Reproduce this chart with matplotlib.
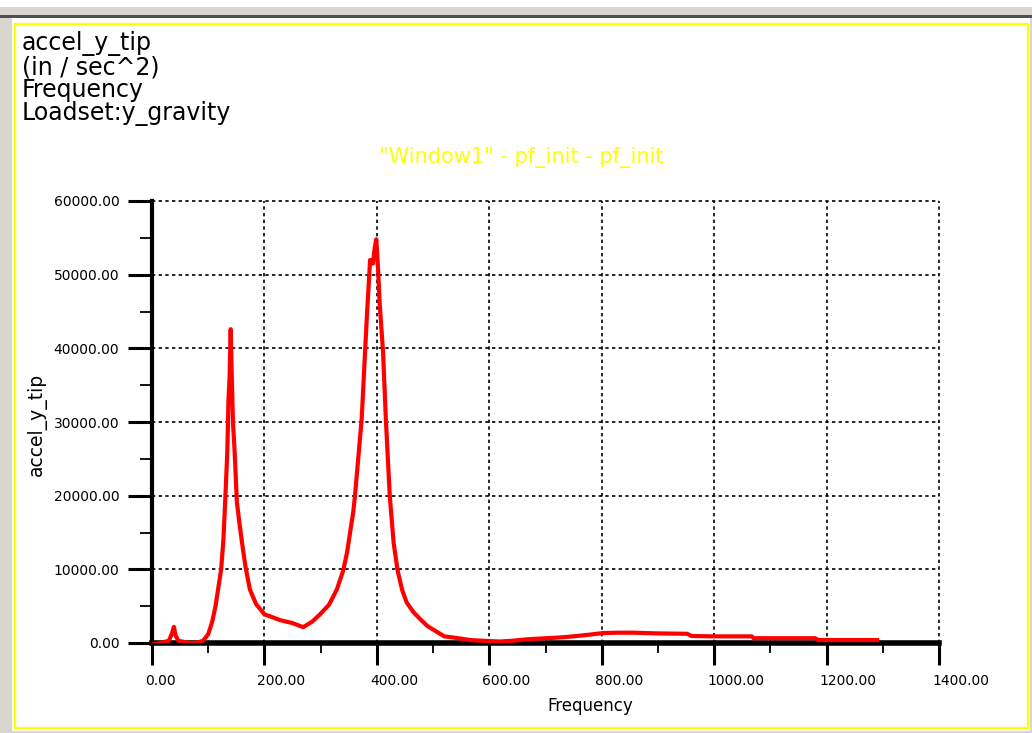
import matplotlib
matplotlib.use('Agg')
import matplotlib.pyplot as plt
import matplotlib.transforms as mtransforms
from matplotlib.patches import Rectangle
from matplotlib.ticker import MultipleLocator

# frequency response
freq = [0, 10, 20, 30, 35, 39, 42, 47, 60, 70, 80, 91, 100, 107, 113, 118,
        123, 127, 130, 134, 136, 138, 140, 142, 144, 147, 151, 156, 160, 166,
        174, 185, 200, 228, 250, 269, 285, 299, 315, 329, 340, 347, 358, 361,
        373, 382, 388, 393, 396, 399, 402, 405, 411, 416, 423, 430, 437, 445,
        453, 465, 477, 490, 507, 520, 540, 566, 590, 619, 640, 667, 690, 714,
        735, 762, 780, 802, 830, 856, 900, 952, 960, 1000, 1067, 1070, 1120,
        1180, 1185, 1250, 1290]
accel = [-200, -100, 100, 300, 1200, 2200, 1000, 300, 100, 0, 50, 300, 1200,
         2850, 5000, 7500, 10000, 14000, 18900, 26000, 33000, 36000, 42600,
         36000, 30000, 26000, 19100, 16000, 13700, 10500, 7300, 5300, 3900,
         3100, 2700, 2150, 2900, 3900, 5200, 7300, 9800, 12300, 17800, 19900,
         30400, 44000, 52000, 51500, 53500, 54800, 51000, 46100, 39500, 30400,
         19900, 13500, 9800, 7200, 5500, 4200, 3250, 2300, 1500, 900, 700,
         400, 300, 200, 300, 500, 600, 700, 800, 1000, 1150, 1350, 1400, 1400,
         1300, 1250, 950, 900, 900, 650, 650, 650, 400, 400, 400]

x_ticks = [0, 200, 400, 600, 800, 1000, 1200, 1400]
y_ticks = [0, 10000, 20000, 30000, 40000, 50000, 60000]

header_lines = ['accel_y_tip', '(in / sec^2)', 'Frequency', 'Loadset:y_gravity']
window_title = '"Window1" - pf_init - pf_init'

fig = plt.figure(figsize=(10.32, 7.33), dpi=100)

# window frame, drawn in pixel coordinates
frame = fig.add_axes([0, 0, 1, 1])
frame.set_xlim(0, 1032)
frame.set_ylim(733, 0)
frame.axis('off')
frame.add_patch(Rectangle((0, 0), 1032, 733, color='#d8d6cf', lw=0))
frame.add_patch(Rectangle((0, 0), 1032, 7, color='white', lw=0))
frame.add_patch(Rectangle((0, 15), 1032, 3, color='#505050', lw=0))
frame.add_patch(Rectangle((12, 18), 1018, 713, color='white', lw=0))
frame.add_patch(Rectangle((15, 24), 1013, 704, fill=False,
                          edgecolor='#ffff00', lw=1.6))

# header block, tightly packed like the original
frame.text(22, 31, '\n'.join(header_lines), fontsize=17, va='top',
           linespacing=0.95, color='black')
frame.text(521, 157, window_title, fontsize=15, color='#ffff00',
           ha='center', va='center')

ax = fig.add_axes([152 / 1032, 1 - 643 / 733, 787 / 1032, 442 / 733])
ax.plot(freq, accel, color='#ff0000', linewidth=3, zorder=3)

ax.set_xlim(0, 1400)
ax.set_ylim(0, 60000)
ax.set_xticks(x_ticks)
ax.set_yticks(y_ticks)
ax.xaxis.set_minor_locator(MultipleLocator(100))
ax.yaxis.set_minor_locator(MultipleLocator(5000))
ax.set_xticklabels([f'{v:.2f}' for v in x_ticks], ha='left')
ax.set_yticklabels([f'{v:.2f}' for v in y_ticks])

ax.tick_params(axis='x', which='major', length=16, width=2.2, pad=6.5, labelsize=10)
ax.tick_params(axis='y', which='major', length=17, width=2.2, pad=6.5, labelsize=10)
ax.tick_params(axis='x', which='minor', length=7, width=1.3)
ax.tick_params(axis='y', which='minor', length=9, width=1.3)

# labels start a little left of their tick (after tick_params, which resets them)
shift = mtransforms.ScaledTranslation(-7 / 100, 0, fig.dpi_scale_trans)
for lab in ax.get_xticklabels():
    lab.set_transform(lab.get_transform() + shift)

ax.grid(True, which='major', color='black', linestyle=(0, (2, 2)), linewidth=1.2)
for gl in ax.get_xgridlines() + ax.get_ygridlines():
    gl.set_clip_on(False)

ax.spines['top'].set_visible(False)
ax.spines['right'].set_visible(False)
ax.spines['left'].set_linewidth(3)
ax.spines['bottom'].set_linewidth(4)

ax.set_xlabel('Frequency', fontsize=12)
ax.xaxis.set_label_coords((590 - 152) / 787, (643 - 697) / 442)
ax.set_ylabel('accel_y_tip', fontsize=13.5)
ax.yaxis.set_label_coords((47 - 152) / 787, (643 - 424) / 442)

fig.savefig('out.png', dpi=100)
